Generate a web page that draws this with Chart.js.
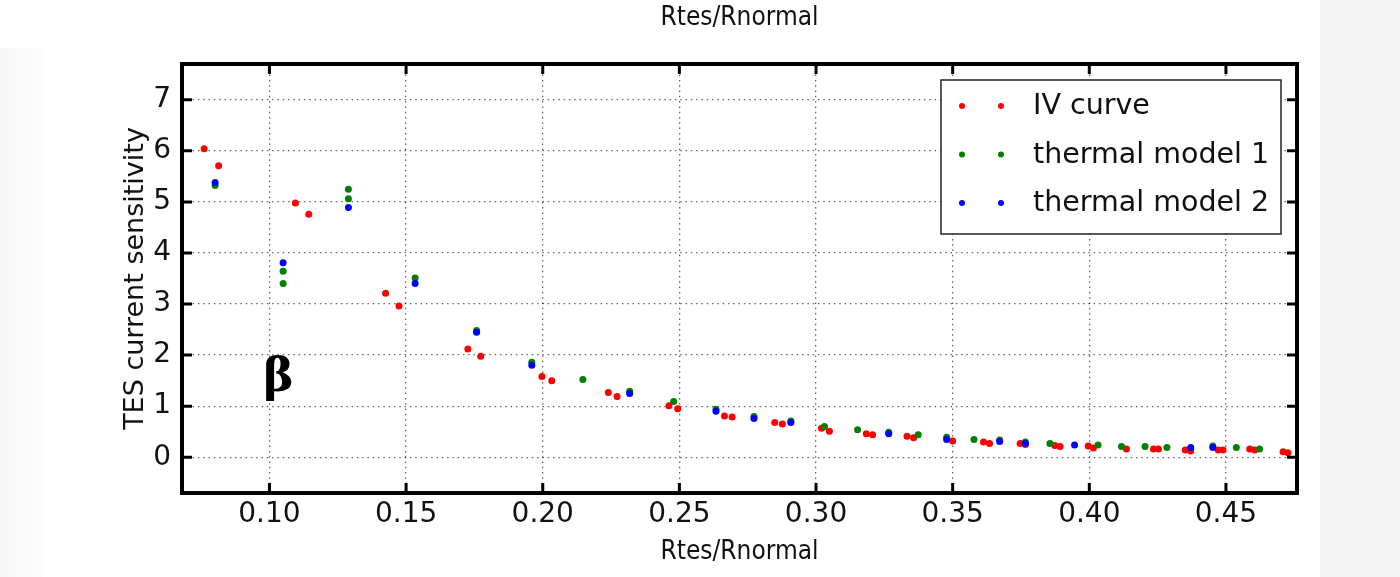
<!DOCTYPE html>
<html>
<head>
<meta charset="utf-8">
<title>TES current sensitivity</title>
<script src="https://cdn.jsdelivr.net/npm/chart.js@4.4.1/dist/chart.umd.min.js"></script>
<style>
  html, body { margin: 0; padding: 0; background: #fff; }
  #wrap { position: relative; width: 1400px; height: 577px; overflow: hidden; background: #fff; }
  #leftShade { position: absolute; left: 0; top: 48px; width: 42px; bottom: 0; background: linear-gradient(to right, #f6f6f6, #fdfdfd); }
  #rightShade { position: absolute; left: 1320px; top: 0; width: 80px; bottom: 0; background: #f4f4f4; }
  #chart { position: absolute; left: 0; top: 0; }
</style>
</head>
<body>
<div id="wrap">
  <div id="leftShade"></div>
  <div id="rightShade"></div>
  <canvas id="chart" width="1400" height="577"></canvas>
</div>
<script>
// ---------------- data ----------------
const xTicks = [0.10, 0.15, 0.20, 0.25, 0.30, 0.35, 0.40, 0.45];
const yTicks = [0, 1, 2, 3, 4, 5, 6, 7];

const ivX = [0.0761, 0.0814, 0.1095, 0.1144, 0.1425, 0.1474, 0.1726, 0.1773, 0.1997, 0.2033, 0.2240, 0.2272,
             0.2462, 0.2494, 0.2665, 0.2693, 0.2849, 0.2877, 0.3020, 0.3049, 0.3184, 0.3207, 0.3333, 0.3357,
             0.3500, 0.3613, 0.3635, 0.3747, 0.3766, 0.3874, 0.3893, 0.3996, 0.4015, 0.4136, 0.4235, 0.4253,
             0.4351, 0.4371, 0.4472, 0.4489, 0.4587, 0.4605, 0.4709, 0.4727];
const ivY = [6.04, 5.71, 4.98, 4.76, 3.21, 2.96, 2.12, 1.98, 1.58, 1.50, 1.27, 1.19,
             1.01, 0.95, 0.81, 0.79, 0.68, 0.65, 0.57, 0.51, 0.46, 0.44, 0.41, 0.38,
             0.32, 0.30, 0.27, 0.27, 0.25, 0.23, 0.21, 0.22, 0.18, 0.16, 0.16, 0.16,
             0.14, 0.12, 0.14, 0.14, 0.16, 0.14, 0.11, 0.09];

const tm1X = [0.0801, 0.1050, 0.1050, 0.1289, 0.1289, 0.1533, 0.1758, 0.1960, 0.2147, 0.2318, 0.2479, 0.2634,
              0.2773, 0.2908, 0.3031, 0.3152, 0.3266, 0.3374, 0.3478, 0.3578, 0.3672, 0.3766, 0.3856, 0.4032,
              0.4118, 0.4204, 0.4284, 0.4452, 0.4538, 0.4623];
const tm1Y = [5.32, 3.64, 3.40, 5.25, 5.06, 3.51, 2.48, 1.86, 1.52, 1.29, 1.09, 0.94,
              0.80, 0.71, 0.60, 0.54, 0.49, 0.44, 0.39, 0.35, 0.34, 0.30, 0.27, 0.24,
              0.21, 0.21, 0.19, 0.22, 0.19, 0.16];

const tm2X = [0.0801, 0.1050, 0.1289, 0.1533, 0.1758, 0.1960, 0.2318, 0.2634, 0.2773, 0.2908, 0.3266, 0.3478,
              0.3672, 0.3766, 0.3946, 0.4371, 0.4452];
const tm2Y = [5.38, 3.81, 4.89, 3.40, 2.45, 1.80, 1.25, 0.90, 0.76, 0.68, 0.46, 0.35,
              0.31, 0.27, 0.24, 0.19, 0.19];

const seriesNames = ["IV curve", "thermal model 1", "thermal model 2"];
const seriesColors = ["#ff0000", "#008000", "#0000ff"];
const axisLabel = "Rtes/Rnormal";

const labelFont = '"DejaVu Sans Condensed", "DejaVu Sans"';

function toPoints(xs, ys) {
    return xs.map((x, i) => ({ x: x, y: ys[i] }));
}

// ---------------- plugins ----------------
// thick frame with inward ticks on all four sides (matplotlib classic look)
const framePlugin = {
    id: "frame",
    afterDraw(chart) {
        const { ctx, chartArea: a, scales } = chart;
        ctx.save();
        ctx.strokeStyle = "#000";
        ctx.lineWidth = 3;
        const len = 10;
        xTicks.forEach(v => {
            const px = scales.x.getPixelForValue(v);
            ctx.beginPath();
            ctx.moveTo(px, a.bottom); ctx.lineTo(px, a.bottom - len);
            ctx.moveTo(px, a.top); ctx.lineTo(px, a.top + len);
            ctx.stroke();
        });
        yTicks.forEach(v => {
            const py = scales.y.getPixelForValue(v);
            ctx.beginPath();
            ctx.moveTo(a.left, py); ctx.lineTo(a.left + len, py);
            ctx.moveTo(a.right, py); ctx.lineTo(a.right - len, py);
            ctx.stroke();
        });
        ctx.lineWidth = 4;
        ctx.strokeRect(a.left, a.top, a.right - a.left, a.bottom - a.top);
        ctx.restore();
    }
};

// the label repeated above the plot, centred on the plot area
const topLabelPlugin = {
    id: "topLabel",
    afterDraw(chart) {
        const { ctx, chartArea: a } = chart;
        ctx.save();
        ctx.font = "26px " + labelFont;
        ctx.fillStyle = "#111";
        ctx.textAlign = "center";
        ctx.textBaseline = "middle";
        ctx.fillText(axisLabel, (a.left + a.right) / 2, 18);
        ctx.restore();
    }
};

// legend box with two markers per entry
const legendPlugin = {
    id: "mplLegend",
    afterDraw(chart) {
        const { ctx, chartArea: a } = chart;
        const w = 340, h = 154;
        const left = a.right - 16 - w, top = a.top + 16;
        ctx.save();
        ctx.fillStyle = "#fff";
        ctx.fillRect(left, top, w, h);
        ctx.strokeStyle = "#222";
        ctx.lineWidth = 1.5;
        ctx.strokeRect(left, top, w, h);
        ctx.font = '28.5px "DejaVu Sans"';
        ctx.textBaseline = "middle";
        ctx.textAlign = "left";
        seriesNames.forEach((name, i) => {
            const y = top + 26 + i * 48.5;
            ctx.fillStyle = seriesColors[i];
            [left + 21, left + 60].forEach(x => {
                ctx.beginPath();
                ctx.arc(x, y, 3, 0, Math.PI * 2);
                ctx.fill();
            });
            ctx.fillStyle = "#111";
            ctx.fillText(name, left + 92, y + 1);
        });
        ctx.restore();
    }
};

// the beta label inside the plot
const betaPlugin = {
    id: "beta",
    afterDatasetsDraw(chart) {
        const { ctx, scales } = chart;
        ctx.save();
        ctx.font = 'bold 46px "DejaVu Serif"';
        ctx.fillStyle = "#000";
        ctx.textAlign = "center";
        ctx.textBaseline = "alphabetic";
        ctx.fillText("β", scales.x.getPixelForValue(0.1033), scales.y.getPixelForValue(1.3));
        ctx.restore();
    }
};

// ---------------- chart ----------------
const ctx = document.getElementById("chart");
new Chart(ctx, {
    type: "scatter",
    data: {
        datasets: [
            { label: seriesNames[0], data: toPoints(ivX, ivY), backgroundColor: seriesColors[0], order: 3 },
            { label: seriesNames[1], data: toPoints(tm1X, tm1Y), backgroundColor: seriesColors[1], order: 2 },
            { label: seriesNames[2], data: toPoints(tm2X, tm2Y), backgroundColor: seriesColors[2], order: 1 }
        ]
    },
    options: {
        responsive: false,
        animation: false,
        devicePixelRatio: 1,
        elements: { point: { radius: 3.5, borderWidth: 0, hoverRadius: 3.5 } },
        layout: { padding: { left: 0, right: 103, top: 64, bottom: 0 } },
        plugins: {
            legend: { display: false },
            tooltip: { enabled: false },
            title: { display: false }
        },
        scales: {
            x: {
                type: "linear",
                min: 0.068,
                max: 0.476,
                afterBuildTicks: s => { s.ticks = xTicks.map(v => ({ value: v })); },
                afterFit: s => { s.height = 84; },
                ticks: {
                    color: "#111",
                    padding: 5,
                    maxRotation: 0,
                    font: { family: "DejaVu Sans", size: 28 },
                    callback: v => Number(v).toFixed(2)
                },
                grid: { color: "rgba(0,0,0,0.6)", lineWidth: 1.3, drawTicks: false },
                border: { display: false, dash: [1.5, 3.8] },
                title: {
                    display: true,
                    text: axisLabel,
                    color: "#111",
                    font: { family: labelFont, size: 26 },
                    padding: { top: 4, bottom: 9 }
                }
            },
            y: {
                type: "linear",
                min: -0.7,
                max: 7.7,
                afterBuildTicks: s => { s.ticks = yTicks.map(v => ({ value: v })); },
                afterFit: s => { s.width = 182; },
                ticks: {
                    color: "#111",
                    padding: 11,
                    font: { family: "DejaVu Sans", size: 28 },
                    callback: v => String(v)
                },
                grid: { color: "rgba(0,0,0,0.6)", lineWidth: 1.3, drawTicks: false },
                border: { display: false, dash: [1.5, 3.8] },
                title: {
                    display: true,
                    text: "TES current sensitivity",
                    color: "#111",
                    font: { family: "DejaVu Sans", size: 27 },
                    padding: { top: 120, bottom: 0 }
                }
            }
        }
    },
    plugins: [betaPlugin, framePlugin, legendPlugin, topLabelPlugin]
});
</script>
</body>
</html>
